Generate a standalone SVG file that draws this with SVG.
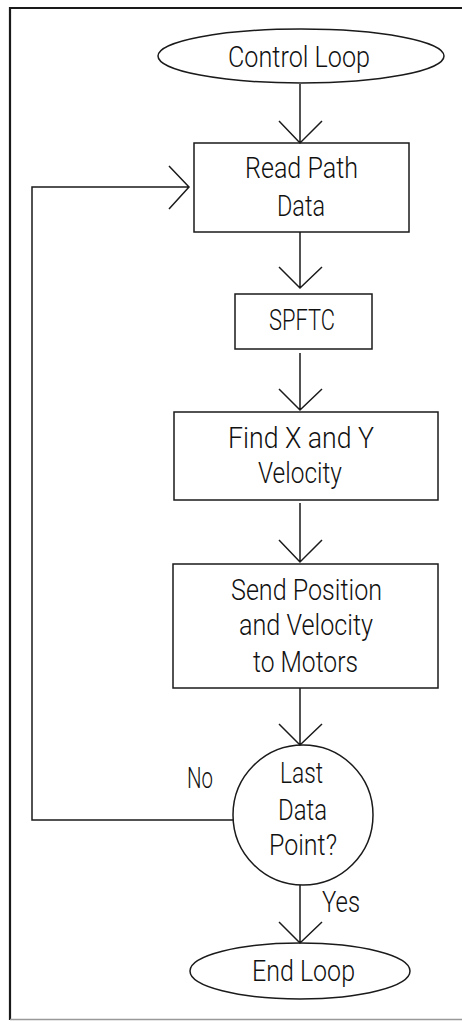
<svg xmlns="http://www.w3.org/2000/svg" width="462" height="1021" viewBox="0 0 462 1021">
<style>
.s{fill:none;stroke:#1a1a1a;stroke-width:1.5}
.t{font-family:Roboto,"Liberation Sans",Arial,sans-serif;font-size:30px;fill:#111;font-weight:300}
.b{fill:none;stroke:#1a1a1a;stroke-width:2.2}
</style>
<rect width="462" height="1021" fill="#fff"/>
<g id="frame">
<path class="b" d="M10,1020 V8 H462"/>
<path d="M10,1019.5 H462" stroke="#999" stroke-width="1.5" fill="none"/>
</g>
<g id="connectors">
<path class="s" d="M300,84 V143 M279,121 L300,143 L322,121"/>
<path class="s" d="M300,232 V288 M279,267 L300,288 L322,267"/>
<path class="s" d="M300,353 V410 M279,389 L300,410 L322,389"/>
<path class="s" d="M300,503 V562 M279,540 L300,562 L322,540"/>
<path class="s" d="M300,688 V745 M279,724 L300,745 L322,724"/>
<path class="s" d="M300,885 V943 M279,922 L300,943 L322,922"/>
<path class="s" d="M233,820 H32 V187 H189 M169,166 L189,187 L169,209"/>
<text class="t" x="187" y="788" textLength="26" lengthAdjust="spacingAndGlyphs">No</text>
<text class="t" x="322" y="912" textLength="38" lengthAdjust="spacingAndGlyphs">Yes</text>
</g>
<g id="control-loop">
<ellipse class="s" cx="301" cy="56" rx="143" ry="27"/>
<text class="t" x="228" y="67" textLength="142" lengthAdjust="spacingAndGlyphs">Control Loop</text>
</g>
<g id="read-path-data">
<rect class="s" x="194" y="143" width="215" height="89"/>
<text class="t" x="245" y="178" textLength="113" lengthAdjust="spacingAndGlyphs">Read Path</text>
<text class="t" x="277" y="216" textLength="48" lengthAdjust="spacingAndGlyphs">Data</text>
</g>
<g id="spftc">
<rect class="s" x="235" y="294" width="137" height="55"/>
<text class="t" x="269" y="330" textLength="66" lengthAdjust="spacingAndGlyphs">SPFTC</text>
</g>
<g id="find-velocity">
<rect class="s" x="174" y="412" width="264" height="88"/>
<text class="t" x="228" y="448" textLength="146" lengthAdjust="spacingAndGlyphs">Find X and Y</text>
<text class="t" x="258" y="483" textLength="84" lengthAdjust="spacingAndGlyphs">Velocity</text>
</g>
<g id="send-position">
<rect class="s" x="173" y="564" width="265" height="124"/>
<text class="t" x="231" y="600" textLength="151" lengthAdjust="spacingAndGlyphs">Send Position</text>
<text class="t" x="239" y="635" textLength="134" lengthAdjust="spacingAndGlyphs">and Velocity</text>
<text class="t" x="253" y="672" textLength="105" lengthAdjust="spacingAndGlyphs">to Motors</text>
</g>
<g id="last-data-point">
<circle class="s" cx="303" cy="815" r="70"/>
<text class="t" x="280" y="783" textLength="43" lengthAdjust="spacingAndGlyphs">Last</text>
<text class="t" x="278" y="820" textLength="49" lengthAdjust="spacingAndGlyphs">Data</text>
<text class="t" x="269" y="855" textLength="68" lengthAdjust="spacingAndGlyphs">Point?</text>
</g>
<g id="end-loop">
<ellipse class="s" cx="300" cy="971" rx="110" ry="28"/>
<text class="t" x="252" y="981" textLength="103" lengthAdjust="spacingAndGlyphs">End Loop</text>
</g>
</svg>
